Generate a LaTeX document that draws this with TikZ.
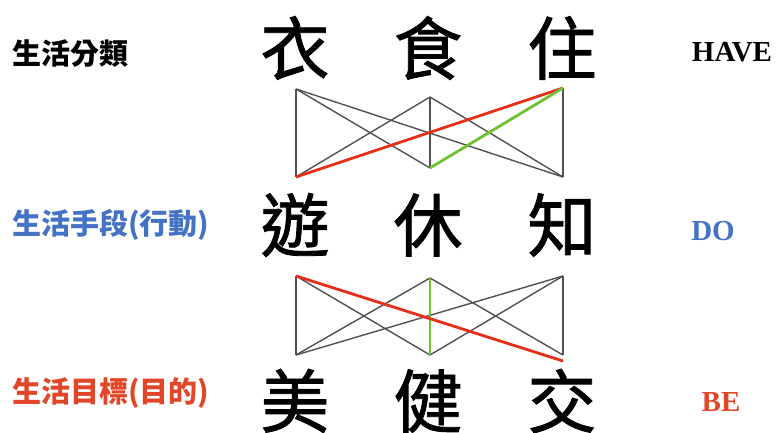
\documentclass[tikz,border=0pt]{standalone}
\usepackage{fontspec}
\newfontfamily\cjk{Noto Sans CJK TC}
\newfontfamily\cjkbig[FakeBold=1.2]{Noto Sans CJK TC}
\setmainfont{Liberation Serif}
\definecolor{lblue}{RGB}{68,114,196}
\definecolor{lred}{RGB}{226,70,40}
\definecolor{linered}{RGB}{232,45,25}
\definecolor{linegreen}{RGB}{110,195,50}
\definecolor{linegray}{RGB}{85,80,80}
\tikzset{
  bigchar/.style={inner sep=0pt, font=\cjkbig\fontsize{69}{69}\selectfont},
  leftlabel/.style={inner sep=0pt, anchor=west, font=\cjk\bfseries\fontsize{29}{29}\selectfont},
  rightlabel/.style={inner sep=0pt, font=\bfseries\fontsize{29}{29}\selectfont},
  edge/.style={draw=linegray, line width=1.4pt},
  rededge/.style={draw=linered, line width=2.8pt},
  greenedge/.style={draw=linegreen, line width=2.8pt}
}
\begin{document}
\begin{tikzpicture}[x=1pt,y=-1pt]
\useasboundingbox (0,0) rectangle (779,433);
% big characters
\node[bigchar] (yi)   at (295,48) {衣};
\node[bigchar] (shi)  at (428,48) {食};
\node[bigchar] (zhu)  at (562,48) {住};
\node[bigchar] (you)  at (295,225) {遊};
\node[bigchar] (xiu)  at (428,225) {休};
\node[bigchar] (zhi)  at (562,225) {知};
\node[bigchar] (mei)  at (295,401) {美};
\node[bigchar] (jian) at (428,401) {健};
\node[bigchar] (jiao) at (562,401) {交};
% left labels
\node[leftlabel] (l1) at (12,54) {生活分類};
\node[leftlabel, text=lblue] (l2) at (12,225) {生活手段(行動)};
\node[leftlabel, text=lred] (l3) at (12,393) {生活目標(目的)};
% right labels
\node[rightlabel] (r1) at (732,52) {HAVE};
\node[rightlabel, text=lblue] (r2) at (713,231) {DO};
\node[rightlabel, text=lred] (r3) at (721,402) {BE};
% coordinates, top block
\coordinate (a1) at (296,89);
\coordinate (a2) at (430,97);
\coordinate (a3) at (563,88);
\coordinate (b1) at (296,177);
\coordinate (b2) at (430,168);
\coordinate (b3) at (563,177);
% bottom block
\coordinate (c1) at (296,276);
\coordinate (c2) at (430,278);
\coordinate (c3) at (563,276);
\coordinate (d1) at (296,355);
\coordinate (d2) at (430,355);
\coordinate (d3) at (563,355);
\coordinate (d3r) at (563,361);
% top block edges
\draw[edge] (a1) -- (b1);
\draw[edge] (a1) -- (b2);
\draw[edge] (a1) -- (b3);
\draw[edge] (a2) -- (b1);
\draw[edge] (a2) -- (b2);
\draw[edge] (a2) -- (b3);
\draw[edge] (a3) -- (b3);
\draw[rededge] (b1) -- (a3);
\draw[greenedge] (b2) -- (a3);
% bottom block edges
\draw[edge] (c1) -- (d1);
\draw[edge] (c1) -- (d2);
\draw[edge] (c2) -- (d1);
\draw[edge] (c2) -- (d3);
\draw[edge] (c3) -- (d1);
\draw[edge] (c3) -- (d2);
\draw[edge] (c3) -- (d3);
\draw[greenedge] (c2) -- (d2);
\draw[rededge] (c1) -- (d3r);
\end{tikzpicture}
\end{document}
